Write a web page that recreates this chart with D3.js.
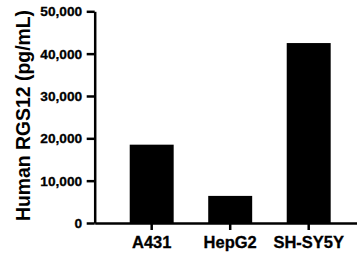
<!DOCTYPE html>
<html>
<head>
<meta charset="utf-8">
<script src="https://cdn.jsdelivr.net/npm/d3@7"></script>
<style>
  html, body { margin: 0; padding: 0; background: #fff; }
  svg { display: block; }
</style>
</head>
<body>
<script>
const categories = ["A431", "HepG2", "SH-SY5Y"];
const values = [18500, 6400, 42500];
const yTicks = [0, 10000, 20000, 30000, 40000, 50000];
const yTitle = "Human RGS12 (pg/mL)";

const W = 357, H = 260;
const svg = d3.select("body").append("svg").attr("width", W).attr("height", H);

const x0 = 94.7, y0 = 223, yTop = 11.3;
const x = d3.scaleBand().domain(categories).range([x0, 365.7]).paddingInner(0.44).paddingOuter(0.446);
const y = d3.scaleLinear().domain([0, 50000]).range([y0, yTop]);

svg.append("g").selectAll("rect").data(categories).join("rect")
  .attr("x", d => x(d))
  .attr("width", x.bandwidth())
  .attr("y", (d, i) => y(values[i]))
  .attr("height", (d, i) => y(0) - y(values[i]))
  .attr("fill", "#000");

const fontFam = "'Liberation Sans', Arial, Helvetica, sans-serif";
const fmt = d3.format(",");
const gy = svg.append("g").attr("transform", `translate(${x0},0)`)
  .call(d3.axisLeft(y).tickValues(yTicks).tickFormat(fmt).tickSizeInner(8).tickSizeOuter(0).tickPadding(4.5));
gy.select(".domain").attr("stroke", "#000").attr("stroke-width", 2.5);
gy.selectAll(".tick line").attr("stroke", "#000").attr("stroke-width", 2.5);
gy.selectAll(".tick text").attr("font-family", fontFam)
  .attr("font-weight", "bold").attr("font-size", 13.7).attr("fill", "#000")
  .attr("stroke", "#000").attr("stroke-width", 0.3);

const gx = svg.append("g").attr("transform", `translate(0,${y0})`)
  .call(d3.axisBottom(x).tickSizeInner(7).tickSizeOuter(0).tickPadding(6));
gx.select(".domain").attr("stroke", "#000").attr("stroke-width", 2.5);
gx.selectAll(".tick line").attr("stroke", "#000").attr("stroke-width", 2.5);
gx.selectAll(".tick text").attr("font-family", fontFam)
  .attr("font-weight", "bold").attr("font-size", 16.5).attr("fill", "#000")
  .attr("stroke", "#000").attr("stroke-width", 0.3);

svg.append("text")
  .attr("transform", "translate(30,115.5) rotate(-90)")
  .attr("text-anchor", "middle")
  .attr("font-family", fontFam)
  .attr("font-weight", "bold")
  .attr("font-size", 19.4)
  .attr("fill", "#000")
  .text(yTitle);
</script>
</body>
</html>
